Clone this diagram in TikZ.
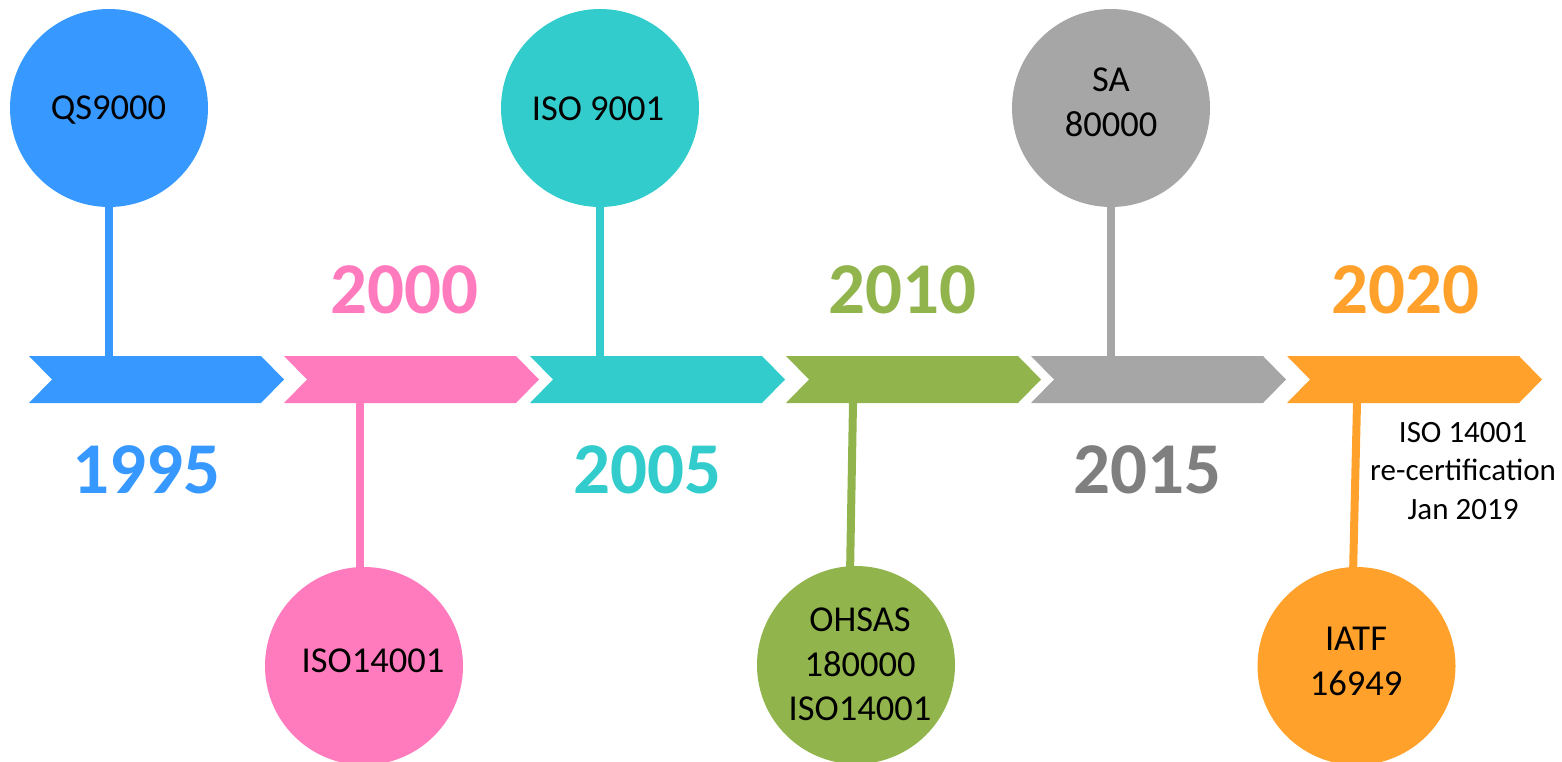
\documentclass[tikz,border=0pt]{standalone}
\usepackage{fontspec}
\setmainfont{Carlito}
\definecolor{cblue}{RGB}{55,153,255}
\definecolor{cpink}{RGB}{255,123,190}
\definecolor{cteal}{RGB}{51,204,204}
\definecolor{cgreen}{RGB}{145,180,76}
\definecolor{cgray}{RGB}{166,166,166}
\definecolor{cgraytext}{RGB}{127,127,127}
\definecolor{corange}{RGB}{255,161,43}
\begin{document}
\begin{tikzpicture}[x=1pt,y=-1pt,
  bubble/.style={circle, minimum size=198pt, inner sep=0pt, fill=#1},
  stem/.style={line width=8pt, draw=#1},
  year/.style={anchor=base, inner sep=0pt, text=#1, font=\fontsize{73}{87}\selectfont\bfseries},
  label/.style={inner sep=0pt, align=center, font=\fontsize{36.5}{44.5}\selectfont},
  smalllabel/.style={inner sep=0pt, align=center, font=\fontsize{31}{38.5}\selectfont}]
\useasboundingbox (0,0) rectangle (1562,762);
% chevrons
\foreach \x/\c in {29/cblue,284/cpink,530/cteal,786/cgreen,1031/cgray,1287/corange}{
  \fill[\c] (\x,356) -- (\x+232,356) -- (\x+255,379.5) -- (\x+232,403) -- (\x,403) -- (\x+23,379.5) -- cycle;
}
% circles
\node[bubble=cblue] (c1) at (109,108) {};
\node[bubble=cpink] (c2) at (364,666) {};
\node[bubble=cteal] (c3) at (600,108) {};
\node[bubble=cgreen] (c4) at (856,665) {};
\node[bubble=cgray] (c5) at (1111,108) {};
\node[bubble=corange] (c6) at (1356.5,666) {};
% stem end points on the chevrons
\coordinate (s1) at (109,356);
\coordinate (s2) at (360,403);
\coordinate (s3) at (600,356);
\coordinate (s4) at (853,403);
\coordinate (s5) at (1111,356);
\coordinate (s6) at (1357,403);
\coordinate (e2) at (360,575);
\coordinate (e4) at (850,575);
\coordinate (e6) at (1353,575);
\draw[stem=cblue] (c1.south) -- (s1);
\draw[stem=cpink] (s2) -- (e2);
\draw[stem=cteal] (c3.south) -- (s3);
\draw[stem=cgreen] (s4) -- (e4);
\draw[stem=cgray] (c5.south) -- (s5);
\draw[stem=corange] (s6) -- (e6);
% circle texts
\node[label, anchor=base] (t1) at (108.5,120) {QS9000};
\node[label, anchor=base] (t2) at (373,672) {ISO14001};
\node[label, anchor=base] (t3) at (598,121) {ISO 9001};
\node[label, anchor=north] (t4) at (860,608) {OHSAS\\180000\\ISO14001};
\node[label, anchor=north] (t5) at (1111,68) {SA\\80000};
\node[label, anchor=north] (t6) at (1356,627) {IATF\\16949};
\node[smalllabel, anchor=north] (t7) at (1463,422) {ISO 14001\\re-certification\\Jan 2019};
% years
\node[year=cblue] (y1) at (146.5,493) {1995};
\node[year=cpink] (y2) at (404.5,313) {2000};
\node[year=cteal] (y3) at (647.5,493) {2005};
\node[year=cgreen] (y4) at (902.5,313) {2010};
\node[year=cgraytext] (y5) at (1147.5,493) {2015};
\node[year=corange] (y6) at (1405,313) {2020};
\end{tikzpicture}
\end{document}
